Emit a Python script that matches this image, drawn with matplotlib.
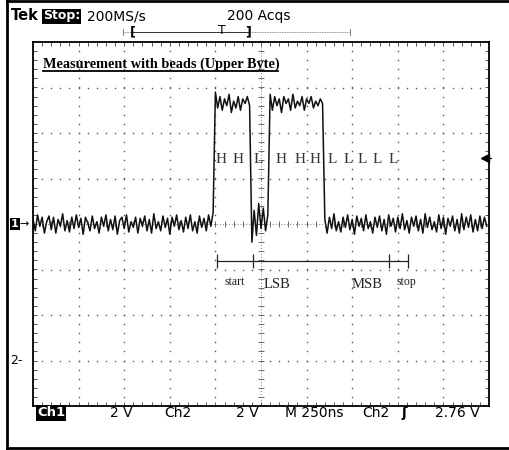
import numpy as np
import matplotlib
matplotlib.use("Agg")
import matplotlib.pyplot as plt
from matplotlib.lines import Line2D

# Scope settings
volts_per_div = 2.0
ns_per_div = 250.0
sample_ns = 12.5

# Ch1 trace in volts, one value per 12.5 ns sample
baseline_before = [
    0.2, -0.3, 0.4, -0.1, 0.3, -0.4, 0.1, 0.35, -0.25, 0.3,
    -0.4, 0.2, -0.1, 0.45, -0.3, 0.15, -0.35, 0.3, -0.2, 0.4,
    -0.15, 0.25, -0.45, 0.3, 0.05, -0.3, 0.35, -0.2, 0.1, -0.4,
    0.3, -0.1, 0.4, -0.3, 0.2, -0.25, 0.35, -0.45, 0.15, 0.3,
    -0.2, 0.4, -0.35, 0.1, -0.15, 0.3, -0.4, 0.25, -0.1, 0.35,
    -0.3, 0.2, -0.4, 0.45, -0.2, 0.1, -0.3, 0.35, -0.15, 0.25,
    -0.45, 0.3, -0.1, 0.4, -0.25, 0.15, -0.35, 0.3, -0.2, 0.4,
    -0.3, 0.1, -0.4, 0.35, -0.15, 0.25, -0.3, 0.4, -0.1, 0.5,
]
high_first = [5.8, 5.1, 5.6, 5.0, 5.5, 5.2, 5.7, 4.9, 5.4, 5.1, 5.6, 5.0, 5.5, 5.3, 5.6, 5.2]
glitch = [-0.8, 0.6, -0.5, 0.9, -0.2, 0.7, -0.3, 0.4]
high_second = [5.7, 5.0, 5.6, 5.2, 5.5, 4.9, 5.6, 5.3, 5.5, 5.0, 5.7, 5.1,
               5.4, 5.2, 5.6, 5.0, 5.5, 5.3, 5.6, 5.1, 5.4, 5.2, 5.5, 5.3]
baseline_after = [
    0.2, -0.4, 0.3, -0.2, 0.45, -0.3, 0.1, -0.35, 0.3, -0.15,
    0.4, -0.25, 0.2, -0.45, 0.35, -0.1, 0.25, -0.3, 0.4, -0.2,
    0.1, -0.4, 0.3, -0.15, 0.35, -0.3, 0.2, -0.45, 0.4, -0.1,
    0.25, -0.35, 0.3, -0.2, 0.45, -0.25, 0.15, -0.4, 0.3, -0.1,
    0.35, -0.3, 0.2, -0.4, 0.45, -0.15, 0.3, -0.25, 0.1, -0.35,
    0.4, -0.2, 0.3, -0.45, 0.25, -0.1, 0.35, -0.3, 0.2, -0.4,
    0.45, -0.25, 0.3, -0.15, 0.4, -0.35, 0.2, -0.3, 0.35, -0.2,
    0.3, -0.1,
]
ch1_volts = baseline_before + high_first + glitch + high_second + baseline_after

# bit annotations
bit_labels = ["H", "H", "L", "H", "H", "H", "L", "L", "L", "L", "L"]
bit_x_div = [4.12, 4.50, 4.93, 5.44, 5.86, 6.18, 6.56, 6.91, 7.21, 7.54, 7.89]
frame_ticks_div = [4.03, 4.82, 7.81, 8.22]
frame_labels = ["start", "LSB", "MSB", "stop"]
frame_label_x_div = [4.43, 5.35, 7.32, 8.18]

W, H = 510, 450
fig = plt.figure(figsize=(W / 100, H / 100), dpi=100)
fig.patch.set_facecolor("white")


def fx(x):
    return x / W


def fy(y):
    return 1 - y / H


# outer frame (left, top, bottom)
for xs, ys in [([7, 7], [1, 448]), ([7, 512], [1, 1]), ([7, 512], [448, 448])]:
    fig.add_artist(Line2D([fx(v) for v in xs], [fy(v) for v in ys], color="black", lw=2))

ax = fig.add_axes([fx(33), fy(406), 456 / W, 364 / H])
ax.set_xlim(0, 10)
ax.set_ylim(-4, 4)
ax.set_xticks([])
ax.set_yticks([])
for s in ax.spines.values():
    s.set_linewidth(1.3)
    s.set_color("black")

# graticule dots
steps_x = np.arange(0, 10.01, 0.2)
steps_y = np.arange(-4, 4.01, 0.2)
for gx in range(1, 10):
    if gx != 5:
        ax.plot([gx] * len(steps_y), steps_y, ls="none", marker="s", ms=1.0, mew=0, color="#555")
for gy in range(-3, 4):
    if gy != 0:
        ax.plot(steps_x, [gy] * len(steps_x), ls="none", marker="s", ms=1.0, mew=0, color="#555")

# center lines with ticks
ax.axvline(5, ls=(0, (1, 2.5)), lw=0.6, color="#555")
ax.axhline(0, ls=(0, (1, 2.5)), lw=0.6, color="#555")
ax.hlines(steps_y, 5 - 0.06, 5 + 0.06, lw=0.6, color="#555")
ax.vlines(steps_x, -0.07, 0.07, lw=0.6, color="#555")

# border ticks
inner_x = np.arange(0.2, 9.9, 0.2)
inner_y = np.arange(-3.8, 3.9, 0.2)
ax.vlines(inner_x, 4 - 0.09, 4, lw=0.7, color="#555")
ax.vlines(inner_x, -4, -4 + 0.09, lw=0.7, color="#555")
ax.hlines(inner_y, 0, 0.09, lw=0.7, color="#555")
ax.hlines(inner_y, 10 - 0.09, 10, lw=0.7, color="#555")

# trace
t_div = np.arange(len(ch1_volts)) * sample_ns / ns_per_div
ax.plot(t_div, np.array(ch1_volts) / volts_per_div, color="#111", lw=1.1)

# trigger level marker on the right
ax.plot([9.91], [1.45], marker="<", ms=6, color="black", clip_on=False)
ax.plot([9.91, 10.05], [1.45, 1.45], color="black", lw=0.8, clip_on=False)

# bit labels
serif = "Liberation Serif"
for lab, bx in zip(bit_labels, bit_x_div):
    ax.text(bx, 1.41, lab, ha="center", va="center", family=serif, fontsize=11, color="#333")

# frame bar
ax.plot([frame_ticks_div[0], frame_ticks_div[-1]], [-0.81, -0.81], color="#222", lw=0.9)
ax.vlines(frame_ticks_div, -0.81 - 0.16, -0.81 + 0.16, color="#222", lw=0.9)
for lab, lx in zip(frame_labels, frame_label_x_div):
    small = lab in ("start", "stop")
    ax.text(lx, -1.27 if small else -1.34, lab, ha="center", va="center", family=serif,
            fontsize=8.5 if small else 10.5, color="#222")

# title on screen
fig.text(fx(43), fy(64), "Measurement with beads (Upper Byte)", family=serif, fontweight="bold",
         fontsize=10.3, ha="left", va="center")
fig.add_artist(Line2D([fx(43), fx(278)], [fy(70.5), fy(70.5)], color="black", lw=1.3))

# header
sans = "DejaVu Sans"
fig.text(fx(11), fy(16), "Tek", family=sans, fontweight="bold", fontsize=10.5, va="center")
fig.text(fx(43), fy(16), "Stop:", family=sans, fontweight="bold", fontsize=9, va="center", color="white",
         bbox=dict(boxstyle="square,pad=0.08", fc="black", ec="none"))
fig.text(fx(87), fy(16), "200MS/s", family=sans, fontsize=10, va="center")
fig.text(fx(227), fy(16), "200 Acqs", family=sans, fontsize=10, va="center")

fig.add_artist(Line2D([fx(123), fx(350)], [fy(32), fy(32)], color="#666", lw=0.6, ls=(0, (1, 1))))
fig.add_artist(Line2D([fx(133), fx(248)], [fy(32), fy(32)], color="#333", lw=0.7))
for xe in (123, 350):
    fig.add_artist(Line2D([fx(xe), fx(xe)], [fy(29), fy(35)], color="#666", lw=0.6))
fig.text(fx(133), fy(32), "[", family=sans, fontweight="bold", fontsize=9, va="center", ha="center")
fig.text(fx(222), fy(31), "T", family=sans, fontsize=9, va="center", ha="center")
fig.text(fx(248), fy(32), "]", family=sans, fontweight="bold", fontsize=9, va="center", ha="center")

# channel ground markers
fig.text(fx(11), fy(224), "1", family=sans, fontweight="bold", fontsize=8, va="center", color="white",
         bbox=dict(boxstyle="square,pad=0.1", fc="black", ec="none"))
fig.text(fx(19), fy(224), "\u2192", family=sans, fontsize=8, va="center")
fig.text(fx(10), fy(360), "2-", family=sans, fontsize=9, va="center")

# footer
fig.text(fx(37), fy(413), "Ch1", family=sans, fontweight="bold", fontsize=9.5, va="center", color="white",
         bbox=dict(boxstyle="square,pad=0.08", fc="black", ec="none"))
footer = [(110, "2 V"), (164, "Ch2"), (236, "2 V"), (285, "M 250ns"), (362, "Ch2"), (435, "2.76 V")]
for x, s in footer:
    fig.text(fx(x), fy(413), s, family=sans, fontsize=10, va="center")
fig.text(fx(402), fy(413), "\u0283", family=sans, fontweight="bold", fontsize=10, va="center")

fig.savefig("out.png", dpi=100, facecolor="white")
